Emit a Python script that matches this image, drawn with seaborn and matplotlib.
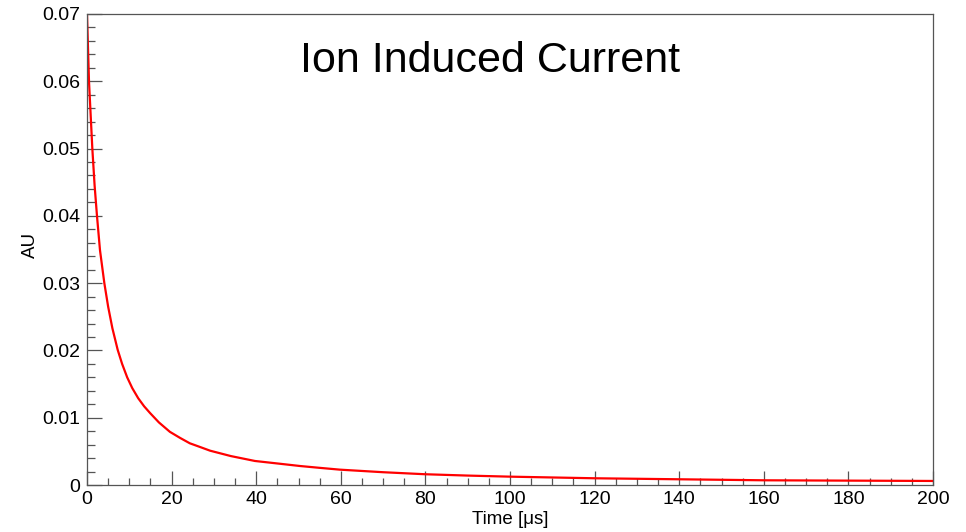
import matplotlib
matplotlib.use("Agg")
import matplotlib.pyplot as plt
import seaborn as sns
import pandas as pd
from matplotlib.ticker import MultipleLocator

# Data
time_us = [0, 0.47, 1.26, 1.8, 2.36, 3.07, 4.1, 5.0, 6.0, 7.25, 8.3, 9.5, 10.7, 12.1,
           13.5, 14.9, 17.0, 19.6, 22.0, 24.3, 26.5, 29.1, 34, 39.7, 45, 50.4, 55,
           59.8, 70, 79.9, 90, 100, 120, 140, 160, 180, 200]
current_au = [0.070, 0.060, 0.050, 0.0445, 0.040, 0.0349, 0.030, 0.0265, 0.0233,
              0.0201, 0.0180, 0.0160, 0.0144, 0.0129, 0.0117, 0.0107, 0.0093,
              0.0079, 0.0070, 0.0062, 0.0057, 0.0051, 0.0043, 0.00357, 0.0032,
              0.00282, 0.00255, 0.00228, 0.0019, 0.0016, 0.0014, 0.00124, 0.0010,
              0.00085, 0.0007, 0.00065, 0.0006]
x_ticks = [0, 20, 40, 60, 80, 100, 120, 140, 160, 180, 200]
y_ticks = [0, 0.01, 0.02, 0.03, 0.04, 0.05, 0.06, 0.07]
y_tick_labels = ["0", "0.01", "0.02", "0.03", "0.04", "0.05", "0.06", "0.07"]
title = "Ion Induced Current"
x_label = "Time [\u03bcs]"
y_label = "AU"

sns.set_theme(style="white")
plt.rcParams["font.family"] = ["Liberation Sans", "DejaVu Sans"]
plt.rcParams["text.color"] = "black"

df = pd.DataFrame({"t": time_us, "v": current_au})

fig = plt.figure(figsize=(9.66, 5.32), dpi=100)
ax = fig.add_axes([87 / 966, 47 / 532, (933 - 87) / 966, (485 - 14) / 532])

sns.lineplot(data=df, x="t", y="v", ax=ax, color="#ff0000", linewidth=1.6,
             estimator=None, sort=False)

ax.set_xlim(0, 200)
ax.set_ylim(0, 0.07)
ax.set_xticks(x_ticks)
ax.set_xticklabels([str(v) for v in x_ticks])
ax.set_yticks(y_ticks)
ax.set_yticklabels(y_tick_labels)
ax.xaxis.set_minor_locator(MultipleLocator(5))
ax.yaxis.set_minor_locator(MultipleLocator(0.002))

gray = "#555555"
for s in ax.spines.values():
    s.set_color(gray)
    s.set_linewidth(0.9)
    s.set_visible(True)

ax.tick_params(axis="both", which="both", direction="in", colors=gray,
               labelcolor="black", labelsize=14, top=False, right=False,
               bottom=True, left=True)
ax.tick_params(axis="x", which="major", length=10, width=0.9, pad=4)
ax.tick_params(axis="x", which="minor", length=5, width=0.9)
ax.tick_params(axis="y", which="major", length=11, width=0.9, pad=5)
ax.tick_params(axis="y", which="minor", length=6, width=0.9)

ax.set_xlabel("")
ax.set_ylabel("")
fig.text(510 / 966, 1 - 519 / 532, x_label, ha="center", va="center",
         fontsize=13.5, color="black")
fig.text(30 / 966, 1 - 245 / 532, y_label, ha="center", va="center",
         fontsize=13.5, rotation=90, color="black")
fig.text(490 / 966, 1 - 61 / 532, title, ha="center", va="center",
         fontsize=31, color="black")

ax.grid(False)
fig.savefig("out.png", dpi=100, facecolor="white")
